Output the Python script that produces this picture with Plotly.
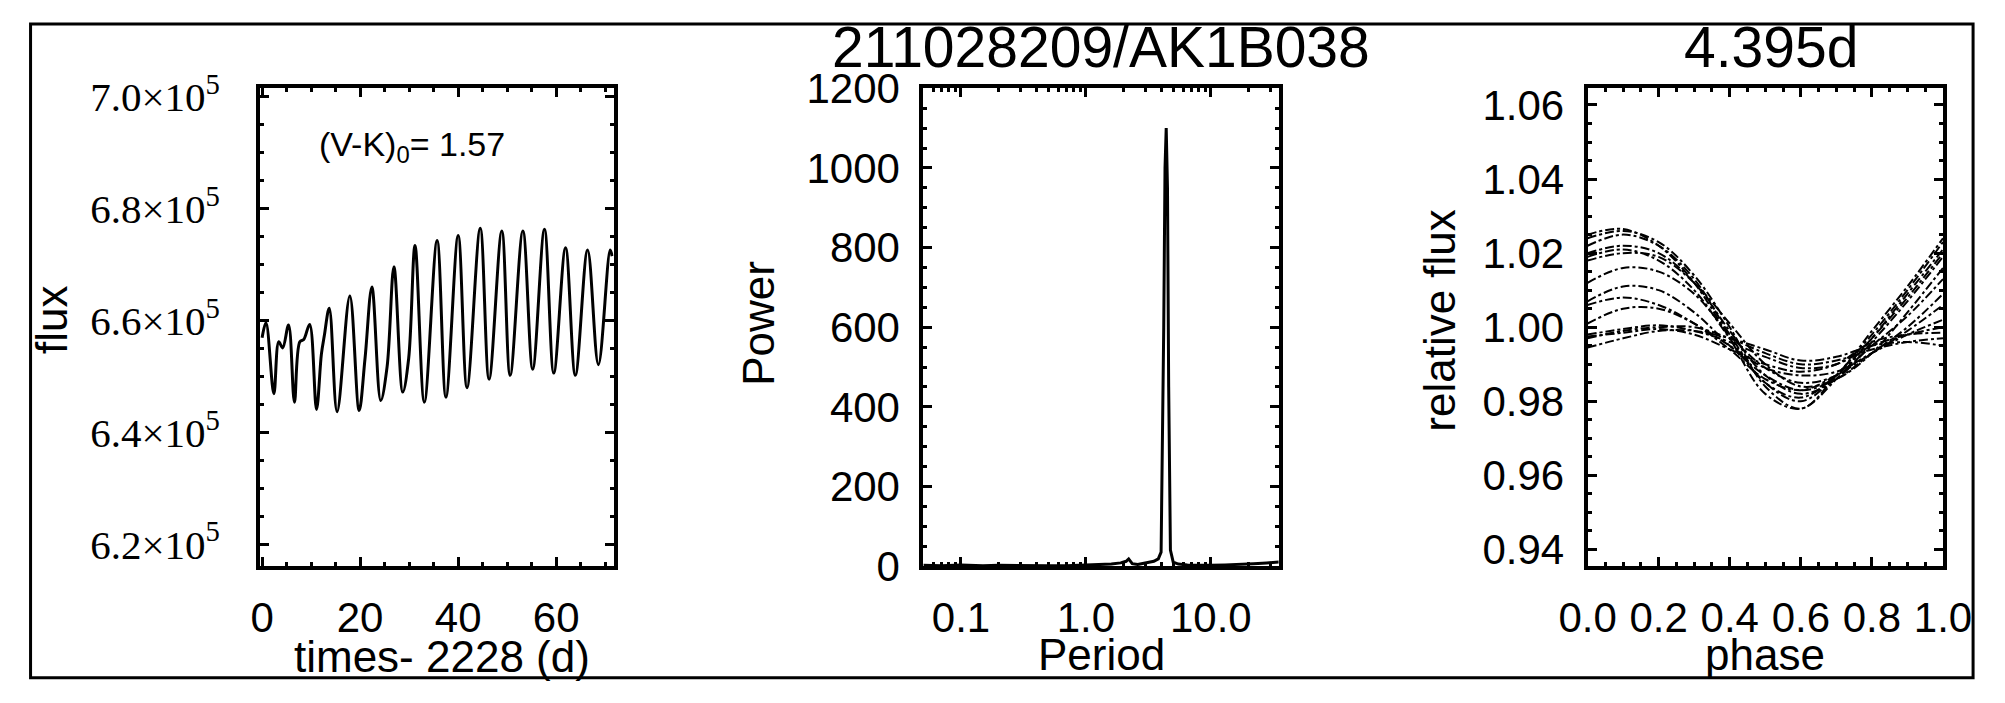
import plotly.graph_objects as go
import math

# ---------------- data ----------------
# Panel 1: light curve (time - 2228 d, flux) read at extrema / shoulders
lc_time = [0.0, 0.8, 2.4, 3.4, 4.2, 5.4, 6.6, 7.7, 8.5, 9.7, 11.1, 12.1, 12.7, 13.7,
           15.3, 17.9, 19.8, 21.0, 22.4, 24.2, 25.5, 26.9, 28.7, 29.9, 31.2, 33.1,
           35.7, 37.5, 40.0, 41.8, 44.5, 46.3, 48.9, 50.6, 53.2, 55.2, 57.6, 59.5,
           61.9, 63.9, 66.4, 68.6, 71.0, 71.4]
lc_flux = [656900, 659600, 646900, 656200, 655100, 659200, 645400, 656200, 656600,
           659300, 644100, 654000, 657300, 662200, 643700, 664400, 643900, 653200,
           666000, 645700, 651700, 669600, 647200, 653200, 673400, 645400, 674300,
           646300, 675200, 648000, 676500, 649500, 676000, 650200, 676000, 651300,
           676300, 650600, 673000, 650200, 672600, 652100, 672600, 671500]

# Panel 2: periodogram
pg_period = [0.05, 0.07, 0.1, 0.15, 0.2, 0.3, 0.5, 0.7, 1.0, 1.3, 1.6, 1.9, 2.1,
             2.2, 2.35, 2.6, 3.0, 3.5, 3.8, 4.0, 4.2, 4.3, 4.395, 4.5, 4.6, 4.75, 5.0,
             5.5, 6.5, 8.0, 10.0, 13.0, 17.0, 22.0, 28.0, 35.0]
pg_power = [2, 1, 3, 1, 2, 1, 1, 1, 2, 3, 5, 8, 12, 18, 6, 4, 8, 12, 18, 35, 600, 1000,
            1100, 950, 450, 40, 10, 5, 3, 2, 2, 3, 4, 6, 8, 10]

# Panel 3: phase-folded cycles
phase = [0.0, 0.1, 0.2, 0.3, 0.4, 0.5, 0.6, 0.7, 0.8, 0.9, 1.0]
cycles = [
    [1.024, 1.026, 1.023, 1.014, 1.000, 0.984, 0.978, 0.987, 0.998, 1.010, 1.023],
    [1.025, 1.0265, 1.022, 1.012, 0.997, 0.982, 0.978, 0.986, 0.997, 1.009, 1.021],
    [1.022, 1.025, 1.022, 1.013, 0.998, 0.985, 0.980, 0.987, 0.999, 1.011, 1.024],
    [1.020, 1.022, 1.020, 1.012, 0.999, 0.987, 0.982, 0.986, 0.996, 1.007, 1.019],
    [1.019, 1.021, 1.018, 1.010, 0.997, 0.985, 0.981, 0.987, 0.997, 1.008, 1.020],
    [1.018, 1.020, 1.019, 1.012, 1.001, 0.990, 0.984, 0.986, 0.993, 1.004, 1.016],
    [1.012, 1.016, 1.015, 1.009, 0.998, 0.989, 0.985, 0.987, 0.995, 1.003, 1.013],
    [1.007, 1.011, 1.010, 1.004, 0.995, 0.987, 0.983, 0.986, 0.993, 1.000, 1.009],
    [1.006, 1.008, 1.006, 1.001, 0.994, 0.986, 0.983, 0.987, 0.993, 0.999, 1.006],
    [1.001, 1.005, 1.005, 1.001, 0.995, 0.989, 0.987, 0.988, 0.993, 0.998, 1.002],
    [0.998, 0.9995, 1.0005, 0.999, 0.996, 0.992, 0.989, 0.990, 0.995, 0.998, 1.000],
    [0.997, 0.999, 1.000, 1.000, 0.997, 0.993, 0.990, 0.991, 0.994, 0.996, 0.997],
    [0.9945, 0.997, 0.999, 0.999, 0.997, 0.994, 0.991, 0.992, 0.995, 0.996, 0.995],
    [0.9975, 0.9985, 0.9995, 0.998, 0.994, 0.990, 0.988, 0.990, 0.996, 0.998, 0.9985],
]

flux_ticks = [620000, 640000, 660000, 680000, 700000]
flux_ticktext = ["6.2×10<sup>5</sup>", "6.4×10<sup>5</sup>", "6.6×10<sup>5</sup>",
                 "6.8×10<sup>5</sup>", "7.0×10<sup>5</sup>"]
time_ticks = [0, 20, 40, 60]
period_ticks = [0.1, 1.0, 10.0]
period_ticktext = ["0.1", "1.0", "10.0"]
period_minor = [0.06, 0.07, 0.08, 0.09, 0.2, 0.3, 0.4, 0.5, 0.6, 0.7, 0.8, 0.9,
                2, 3, 4, 5, 6, 7, 8, 9, 20, 30]
power_ticks = [0, 200, 400, 600, 800, 1000, 1200]
phase_ticks = [0.0, 0.2, 0.4, 0.6, 0.8, 1.0]
phase_ticktext = ["0.0", "0.2", "0.4", "0.6", "0.8", "1.0"]
rel_ticks = [0.94, 0.96, 0.98, 1.00, 1.02, 1.04, 1.06]
rel_ticktext = ["0.94", "0.96", "0.98", "1.00", "1.02", "1.04", "1.06"]

# ---------------- figure ----------------
W, H = 2005, 703
SANS = "Liberation Sans, Arial, Helvetica, sans-serif"
SERIF = "Liberation Serif, Times New Roman, serif"
FS = 42      # tick labels
FT = 44      # axis titles

fig = go.Figure()

fig.add_trace(go.Scatter(x=lc_time, y=lc_flux, mode="lines",
                         line=dict(color="black", width=3, shape="spline", smoothing=1.0),
                         xaxis="x", yaxis="y", showlegend=False))

fig.add_trace(go.Scatter(x=pg_period, y=pg_power, mode="lines",
                         line=dict(color="black", width=3),
                         xaxis="x2", yaxis="y2", showlegend=False))

for cyc in cycles:
    fig.add_trace(go.Scatter(x=phase, y=cyc, mode="lines",
                             line=dict(color="black", width=2, dash="dashdot",
                                       shape="spline", smoothing=1.0),
                             xaxis="x3", yaxis="y3", showlegend=False))


def px(x):
    return x / W


def py(y):
    return 1 - y / H


def ax_common(**kw):
    d = dict(showline=True, linecolor="black", linewidth=4, mirror="allticks",
             ticks="inside", ticklen=9, tickwidth=3, tickcolor="black",
             showgrid=False, zeroline=False,
             tickfont=dict(family=SANS, size=FS, color="black"))
    d.update(kw)
    return d


def minor(**kw):
    d = dict(ticks="inside", ticklen=4, tickwidth=3, tickcolor="black", showgrid=False)
    d.update(kw)
    return d


ydom = [py(582), py(70)]
XSTAND = 12

fig.update_layout(
    width=W, height=H,
    margin=dict(l=0, r=0, t=0, b=0),
    paper_bgcolor="white", plot_bgcolor="white",
    xaxis=ax_common(domain=[px(238), px(602)], range=[-0.4, 71.7], anchor="y",
                    tickmode="array", tickvals=time_ticks, minor=minor(dtick=5),
                    ticklabelstandoff=XSTAND),
    yaxis=ax_common(domain=ydom, range=[616100, 701500], anchor="x",
                    tickmode="array", tickvals=flux_ticks, ticktext=flux_ticktext,
                    tickfont=dict(family=SERIF, size=41, color="black"),
                    minor=minor(dtick=5000), ticklabelstandoff=28),
    xaxis2=ax_common(domain=[px(921), px(1287)], type="log",
                     range=[math.log10(0.05), math.log10(35)], anchor="y2",
                     tickmode="array", tickvals=period_ticks, ticktext=period_ticktext,
                     minor=minor(tickmode="array", tickvals=period_minor),
                     ticklabelstandoff=XSTAND),
    yaxis2=ax_common(domain=ydom, range=[0, 1200], anchor="x2",
                     tickmode="array", tickvals=power_ticks,
                     minor=minor(dtick=50), ticklabelstandoff=11),
    xaxis3=ax_common(domain=[px(1605), px(1971)], range=[0, 1], anchor="y3",
                     tickmode="array", tickvals=phase_ticks, ticktext=phase_ticktext,
                     minor=minor(dtick=0.05), ticklabelstandoff=XSTAND),
    yaxis3=ax_common(domain=ydom, range=[0.9355, 1.0645], anchor="x3",
                     tickmode="array", tickvals=rel_ticks, ticktext=rel_ticktext,
                     minor=minor(dtick=0.005), ticklabelstandoff=11),
)

annots = [
    dict(text="211028209/AK1B038", x=px(1104), y=py(26), size=57),
    dict(text="4.395d", x=px(1794), y=py(26), size=57),
    dict(text="(V-K)<sub>0</sub>= 1.57", x=px(394), y=py(132), size=34),
    dict(text="times- 2228 (d)", x=px(425), y=py(679), size=FT),
    dict(text="Period", x=px(1104), y=py(677), size=FT),
    dict(text="phase", x=px(1788), y=py(677), size=FT),
    dict(text="flux", x=px(23), y=py(318), size=FT, angle=-90),
    dict(text="Power", x=px(751), y=py(322), size=FT, angle=-90),
    dict(text="relative flux", x=px(1453), y=py(318), size=FT, angle=-90),
]
for a in annots:
    fig.add_annotation(text=a["text"], x=a["x"], y=a["y"], xref="paper", yref="paper",
                       xanchor="center", yanchor="middle", showarrow=False,
                       textangle=a.get("angle", 0),
                       font=dict(family=SANS, size=a["size"], color="black"))

fig.add_shape(type="rect", xref="paper", yref="paper", x0=0.0008, x1=0.9985,
              y0=0.002, y1=0.9985, line=dict(color="black", width=3))

fig.write_html("out.html",
               config={"displayModeBar": False},
               post_script="document.body.style.margin='0px';"
                           "document.body.style.overflow='hidden';")
